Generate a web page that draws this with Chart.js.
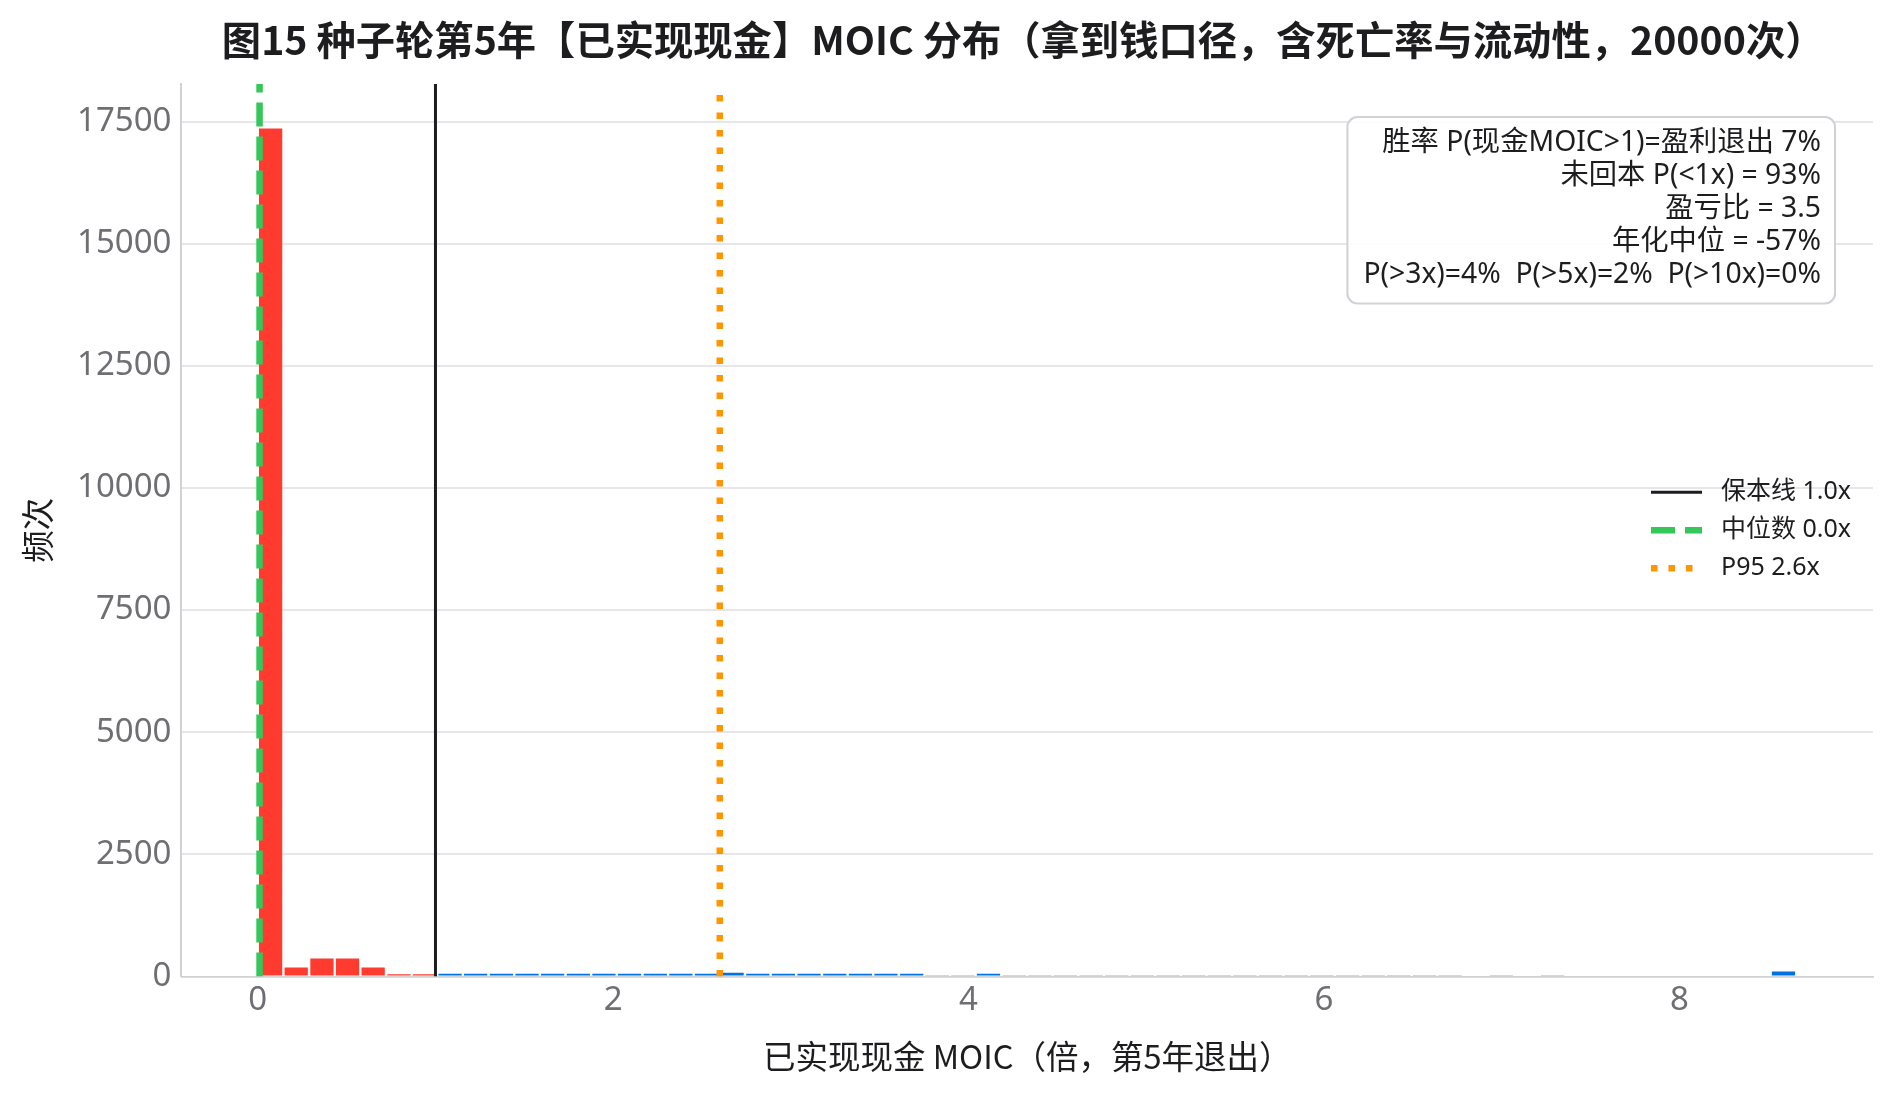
<!DOCTYPE html>
<html>
<head>
<meta charset="utf-8">
<title>MOIC 分布</title>
<script src="https://cdn.jsdelivr.net/npm/chart.js@4.4.1/dist/chart.umd.min.js"></script>
<style>
  html, body { margin: 0; padding: 0; background: #fff; }
  #wrap { width: 1893px; height: 1095px; }
</style>
</head>
<body>
<div id="wrap"><canvas id="chart"></canvas></div>
<script>
const FONT = '"Noto Sans CJK SC", "Noto Sans", sans-serif';
const FONT_LATIN = '"Noto Sans", "Noto Sans CJK SC", sans-serif';
const TEXT = '#1d1d1f';
const TICK_COLOR = '#6e6e73';
const GRID = '#e5e5ea';
const SPINE = '#d1d1d6';
const RED = '#ff3b30';
const BLUE = '#0071e3';

const TITLE = '图15 种子轮第5年【已实现现金】MOIC 分布（拿到钱口径，含死亡率与流动性，20000次）';
const X_LABEL = '已实现现金 MOIC（倍，第5年退出）';
const Y_LABEL = '频次';

// histogram bins: left edge of each bin (MOIC) and the count in it
const BIN_STARTS = [
  0.000, 0.144, 0.289, 0.433, 0.577, 0.722, 0.866, 1.010, 1.154, 1.299,
  1.443, 1.587, 1.732, 1.876, 2.020, 2.165, 2.309, 2.453, 2.597, 2.742,
  2.886, 3.030, 3.175, 3.319, 3.463, 3.608, 3.752, 3.896, 4.040, 4.185,
  4.329, 4.473, 4.618, 4.762, 4.906, 5.051, 5.195, 5.339, 5.483, 5.628,
  5.772, 5.916, 6.061, 6.205, 6.349, 6.494, 6.638, 6.782, 6.926, 7.071,
  7.215, 7.359, 7.504, 7.648, 7.792, 7.937, 8.081, 8.225, 8.369, 8.514
];
const BIN_WIDTH = 0.1443;
const COUNTS = [
  17360, 180, 365, 365, 180, 44, 44, 52, 52, 52,
  52, 52, 52, 52, 52, 52, 52, 52, 73, 52,
  52, 52, 52, 52, 52, 52, 22, 22, 52, 22,
  22, 23, 22, 22, 23, 22, 22, 22, 23, 22,
  22, 22, 23, 22, 22, 22, 21, 0, 21, 0,
  21, 0, 0, 0, 0, 0, 0, 0, 0, 99
];

const X_TICKS = [0, 2, 4, 6, 8];
const Y_TICKS = [0, 2500, 5000, 7500, 10000, 12500, 15000, 17500];
const X_MIN = -0.43;
const X_MAX = 9.09;
const Y_MAX = 18270;

const BREAKEVEN = 1.0;
const REF_LABELS = ['保本线 1.0x', '中位数 0.0x', 'P95 2.6x'];
const REF_VALUES = [1.0, 0.01, 2.6];

const STATS_LINES = [
  '胜率 P(现金MOIC>1)=盈利退出 7%',
  '未回本 P(<1x) = 93%',
  '盈亏比 = 3.5',
  '年化中位 = -57%',
  'P(>3x)=4%  P(>5x)=2%  P(>10x)=0%'
];

const barPoints = BIN_STARTS.map((s, i) => ({ x: s + BIN_WIDTH / 2, y: COUNTS[i] }));

function vline(label, value, color, width, dash) {
  return {
    type: 'line',
    label: label,
    data: [{ x: value, y: 0 }, { x: value, y: Y_MAX }],
    borderColor: color,
    borderWidth: width,
    borderDash: dash,
    borderCapStyle: 'butt',
    pointRadius: 0,
    fill: false,
    order: 0
  };
}

function roundRect(ctx, x, y, w, h, r) {
  ctx.beginPath();
  ctx.moveTo(x + r, y);
  ctx.lineTo(x + w - r, y);
  ctx.arcTo(x + w, y, x + w, y + r, r);
  ctx.lineTo(x + w, y + h - r);
  ctx.arcTo(x + w, y + h, x + w - r, y + h, r);
  ctx.lineTo(x + r, y + h);
  ctx.arcTo(x, y + h, x, y + h - r, r);
  ctx.lineTo(x, y + r);
  ctx.arcTo(x, y, x + r, y, r);
  ctx.closePath();
}

// title, in-plot legend and stats box
const overlay = {
  id: 'overlay',
  afterDraw(chart) {
    const { ctx, chartArea: a } = chart;
    ctx.save();

    ctx.fillStyle = TEXT;
    ctx.font = `bold 39.3px ${FONT}`;
    ctx.textAlign = 'center';
    ctx.textBaseline = 'middle';
    ctx.fillText(TITLE, (a.left + a.right) / 2 - 4, 40);

    // legend, centre right
    const lines = chart.data.datasets.filter(d => d.type === 'line');
    const midY = (a.top + a.bottom) / 2;
    const rowH = 38;
    ctx.font = `25px ${FONT_LATIN}`;
    ctx.textAlign = 'left';
    lines.forEach((d, i) => {
      const y = midY + (i - 1) * rowH;
      const x0 = a.right - 222;
      ctx.strokeStyle = d.borderColor;
      ctx.lineWidth = d.borderWidth;
      ctx.setLineDash(d.borderDash);
      ctx.lineCap = 'butt';
      ctx.beginPath();
      ctx.moveTo(x0, y);
      ctx.lineTo(x0 + 51, y);
      ctx.stroke();
      ctx.setLineDash([]);
      ctx.fillStyle = TEXT;
      ctx.fillText(d.label, x0 + 70, y);
    });

    // stats box, top right
    ctx.font = `28.3px ${FONT_LATIN}`;
    const lineH = 33;
    const textR = a.right - 52;
    const maxW = Math.max(...STATS_LINES.map(t => ctx.measureText(t).width));
    const boxL = textR - maxW - 16;
    const boxR = a.right - 38;
    const boxT = a.top + 33;
    const boxH = 25.5 + lineH * (STATS_LINES.length - 1) + 29;
    roundRect(ctx, boxL, boxT, boxR - boxL, boxH, 10);
    ctx.fillStyle = 'rgba(255,255,255,0.9)';
    ctx.fill();
    ctx.strokeStyle = SPINE;
    ctx.lineWidth = 2;
    ctx.stroke();
    ctx.fillStyle = TEXT;
    ctx.textAlign = 'right';
    STATS_LINES.forEach((t, i) => ctx.fillText(t, textR, boxT + 25.5 + i * lineH));

    ctx.restore();
  }
};

new Chart(document.getElementById('chart'), {
  type: 'bar',
  data: {
    datasets: [
      vline(REF_LABELS[0], REF_VALUES[0], '#1d1d1f', 3, []),
      vline(REF_LABELS[1], REF_VALUES[1], '#34c759', 6.5, [24, 10]),
      vline(REF_LABELS[2], REF_VALUES[2], '#ff9500', 6.5, [6.5, 11]),
      {
        type: 'bar',
        label: 'MOIC',
        data: barPoints,
        backgroundColor: c => (BIN_STARTS[c.dataIndex] < BREAKEVEN ? RED : BLUE),
        borderWidth: 0,
        barPercentage: 0.91,
        categoryPercentage: 1,
        order: 1
      }
    ]
  },
  options: {
    responsive: true,
    maintainAspectRatio: false,
    devicePixelRatio: 1,
    animation: false,
    layout: { padding: { left: 14, right: 20, top: 84, bottom: 15 } },
    plugins: {
      legend: { display: false },
      title: { display: false },
      tooltip: { enabled: false }
    },
    scales: {
      x: {
        type: 'linear',
        min: X_MIN,
        max: X_MAX,
        offset: false,
        afterBuildTicks: s => { s.ticks = X_TICKS.map(v => ({ value: v })); },
        ticks: {
          color: TICK_COLOR,
          font: { family: FONT_LATIN, size: 33 },
          padding: 4,
          maxRotation: 0,
          callback: v => String(v)
        },
        grid: { display: false, drawTicks: false, offset: false },
        border: { display: true, color: SPINE, width: 1.7 },
        title: {
          display: true,
          text: X_LABEL,
          color: TEXT,
          font: { family: FONT, size: 32.5 },
          padding: { top: 13, bottom: 4 }
        }
      },
      y: {
        min: 0,
        max: Y_MAX,
        afterBuildTicks: s => { s.ticks = Y_TICKS.map(v => ({ value: v })); },
        ticks: {
          color: TICK_COLOR,
          font: { family: FONT_LATIN, size: 33 },
          padding: 10,
          callback: v => String(v)
        },
        grid: {
          color: c => (c.tick && c.tick.value === 0 ? 'rgba(0,0,0,0)' : GRID),
          lineWidth: 2,
          drawTicks: false
        },
        border: { display: true, color: SPINE, width: 2 },
        title: {
          display: true,
          text: Y_LABEL,
          color: TEXT,
          font: { family: FONT, size: 32.5 },
          padding: { top: 4, bottom: 10 }
        }
      }
    }
  },
  plugins: [overlay]
});
</script>
</body>
</html>
